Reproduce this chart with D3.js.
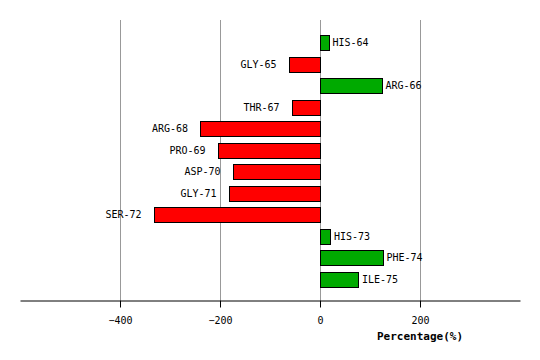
<!DOCTYPE html>
<html><head><meta charset="utf-8">
<script src="https://cdn.jsdelivr.net/npm/d3@7"></script>
<style>body{margin:0;background:#fff}svg{display:block}</style>
</head><body>
<script>
const categories = ["HIS-64","GLY-65","ARG-66","THR-67","ARG-68","PRO-69","ASP-70","GLY-71","SER-72","HIS-73","PHE-74","ILE-75"];
const values = [17,-63,123,-57,-240,-205,-175,-183,-333,20,125,76];
const tickValues = [-400,-200,0,200];
const xTitle = "Percentage(%)";

const W = 540, H = 360;
const svg = d3.select("body").append("svg").attr("width", W).attr("height", H);
const x = d3.scaleLinear().domain([-600, 400]).range([20, 520]);
const y = d3.scaleBand().domain(categories).range([32, 290]).paddingInner(0.3).paddingOuter(0.15);
const font = "'DejaVu Sans Mono', monospace";

// grid
svg.append("g").selectAll("line").data(tickValues).join("line")
  .attr("x1", d => Math.round(x(d)) + 0.5).attr("x2", d => Math.round(x(d)) + 0.5)
  .attr("y1", 20).attr("y2", 300)
  .attr("stroke", "#999").attr("stroke-width", 1);

// bars
const left = d => Math.round(Math.min(x(d), x(0)));
const right = d => Math.round(Math.max(x(d), x(0)));
svg.append("g").selectAll("rect").data(values).join("rect")
  .attr("x", d => left(d) + 0.5)
  .attr("y", (d, i) => Math.round(y(categories[i])) + 0.5)
  .attr("width", d => right(d) - left(d))
  .attr("height", Math.round(y.bandwidth()))
  .attr("fill", d => d >= 0 ? "#00aa00" : "#ff0000")
  .attr("stroke", "#000").attr("stroke-width", 1);

// labels
svg.append("g").selectAll("text").data(values).join("text")
  .attr("x", d => d >= 0 ? x(d) + 4 : x(d) - 12)
  .attr("y", (d, i) => y(categories[i]) + y.bandwidth() / 2)
  .attr("dy", "0.35em")
  .attr("text-anchor", d => d >= 0 ? "start" : "end")
  .attr("font-family", font).attr("font-size", 10).attr("fill", "#000")
  .text((d, i) => categories[i]);

// axis
const axis = d3.axisBottom(x).tickValues(tickValues).tickSize(7).tickSizeOuter(0).tickPadding(9);
const ag = svg.append("g").attr("transform", "translate(0,300.5)").call(axis);
ag.select(".domain").attr("stroke", "#000");
ag.selectAll(".tick line").attr("stroke", "#000");
ag.selectAll(".tick text").attr("font-family", font).attr("font-size", 10).attr("fill", "#000")
  .text(d => d < 0 ? "\u2212" + Math.abs(d) : d);

svg.append("text").attr("x", 420).attr("y", 336).attr("dy", "0.35em")
  .attr("text-anchor", "middle").attr("font-family", font).attr("font-size", 11)
  .attr("font-weight", "bold").attr("fill", "#000").text(xTitle);
</script>
</body></html>
